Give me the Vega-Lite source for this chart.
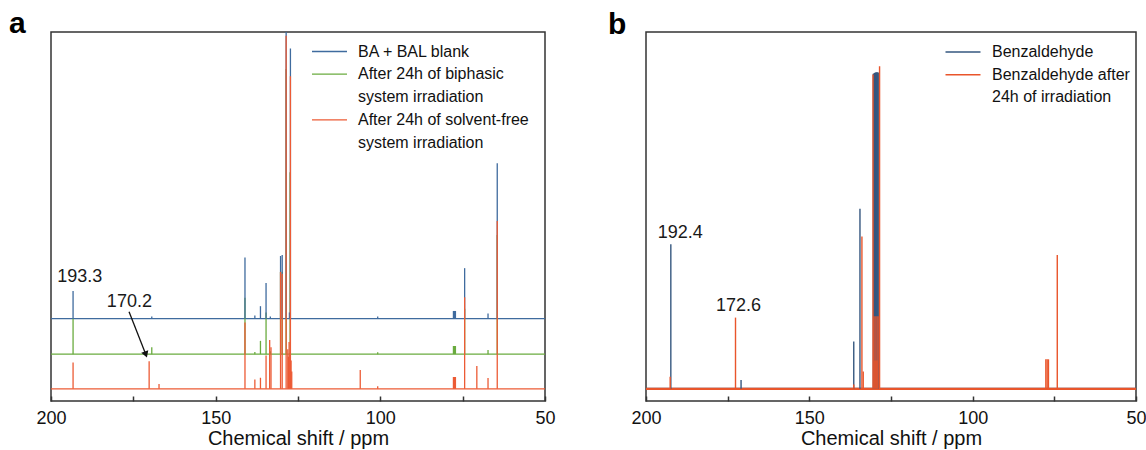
{
  "$schema": "https://vega.github.io/schema/vega-lite/v6.json",
  "padding": {"left": 8, "top": 8, "right": 0, "bottom": 0},
  "bounds": "flush",
  "spacing": 101,
  "resolve": {
    "scale": {"color": "independent", "strokeWidth": "independent"},
    "legend": {"color": "independent", "strokeWidth": "independent"}
  },
  "config": {
    "font": "Liberation Sans",
    "view": {"stroke": "#333", "strokeWidth": 1.5},
    "axisY": {"disable": true},
    "axisX": {
      "domain": false, "grid": false, "tickSize": -5, "tickColor": "#333", "tickWidth": 1.5,
      "labelFontSize": 18, "labelColor": "#111", "labelPadding": 13, "labelFlush": false,
      "titleFontSize": 20, "titleFontWeight": "normal", "titleColor": "#111", "titlePadding": 1
    },
    "legend": {
      "orient": "none", "title": null, "symbolType": "M-2,0H2", "symbolSize": 306,
      "symbolStrokeWidth": 1.6, "labelFontSize": 16, "labelOffset": 19, "labelLimit": 400,
      "labelColor": "#111", "rowPadding": 4.7, "padding": 0
    },
    "title": {"anchor": "start", "fontSize": 30, "fontWeight": "bold", "color": "#000", "baseline": "alphabetic", "offset": -8}
  },
  "datasets": {
    "baseA": [
      {"s": "BA + BAL blank", "base": 22.3},
      {"s": "After 24h of biphasic system irradiation", "base": 12.7},
      {"s": "After 24h of solvent-free system irradiation", "base": 3.3}
    ],
    "peaksA": [
      {"s": "After 24h of biphasic system irradiation", "ppm": 193.3, "top": 22.3, "base": 12.7},
      {"s": "After 24h of biphasic system irradiation", "ppm": 169.4, "top": 14.6, "base": 12.7},
      {"s": "After 24h of biphasic system irradiation", "ppm": 141.1, "top": 28, "base": 12.7},
      {"s": "After 24h of biphasic system irradiation", "ppm": 138.1, "top": 13.3, "base": 12.7},
      {"s": "After 24h of biphasic system irradiation", "ppm": 136.4, "top": 16.3, "base": 12.7},
      {"s": "After 24h of biphasic system irradiation", "ppm": 134.7, "top": 24, "base": 12.7},
      {"s": "After 24h of biphasic system irradiation", "ppm": 133.4, "top": 13.5, "base": 12.7},
      {"s": "After 24h of biphasic system irradiation", "ppm": 130.3, "top": 35, "base": 12.7},
      {"s": "After 24h of biphasic system irradiation", "ppm": 129.8, "top": 35, "base": 12.7},
      {"s": "After 24h of biphasic system irradiation", "ppm": 128.6, "top": 90, "base": 12.7},
      {"s": "After 24h of biphasic system irradiation", "ppm": 127.4, "top": 62, "base": 12.7},
      {"s": "After 24h of biphasic system irradiation", "ppm": 100.8, "top": 13.2, "base": 12.7},
      {"s": "After 24h of biphasic system irradiation", "ppm": 77.8, "top": 14.9, "base": 12.7},
      {"s": "After 24h of biphasic system irradiation", "ppm": 77.5, "top": 14.9, "base": 12.7},
      {"s": "After 24h of biphasic system irradiation", "ppm": 77.2, "top": 14.9, "base": 12.7},
      {"s": "After 24h of biphasic system irradiation", "ppm": 74.4, "top": 25, "base": 12.7},
      {"s": "After 24h of biphasic system irradiation", "ppm": 67.3, "top": 13.8, "base": 12.7},
      {"s": "After 24h of biphasic system irradiation", "ppm": 64.5, "top": 45, "base": 12.7},
      {"s": "BA + BAL blank", "ppm": 193.3, "top": 29.8, "base": 22.3},
      {"s": "BA + BAL blank", "ppm": 169.4, "top": 22.9, "base": 22.3},
      {"s": "BA + BAL blank", "ppm": 141.1, "top": 38.9, "base": 22.3},
      {"s": "BA + BAL blank", "ppm": 138.1, "top": 23.2, "base": 22.3},
      {"s": "BA + BAL blank", "ppm": 136.4, "top": 25.7, "base": 22.3},
      {"s": "BA + BAL blank", "ppm": 134.7, "top": 32, "base": 22.3},
      {"s": "BA + BAL blank", "ppm": 133.4, "top": 22.9, "base": 22.3},
      {"s": "BA + BAL blank", "ppm": 130.3, "top": 39.3, "base": 22.3},
      {"s": "BA + BAL blank", "ppm": 129.8, "top": 39.6, "base": 22.3},
      {"s": "BA + BAL blank", "ppm": 128.6, "top": 100, "base": 22.3},
      {"s": "BA + BAL blank", "ppm": 127.6, "top": 24, "base": 22.3},
      {"s": "BA + BAL blank", "ppm": 127.3, "top": 95.5, "base": 22.3},
      {"s": "BA + BAL blank", "ppm": 100.8, "top": 22.9, "base": 22.3},
      {"s": "BA + BAL blank", "ppm": 77.8, "top": 24.4, "base": 22.3},
      {"s": "BA + BAL blank", "ppm": 77.5, "top": 24.4, "base": 22.3},
      {"s": "BA + BAL blank", "ppm": 77.2, "top": 24.4, "base": 22.3},
      {"s": "BA + BAL blank", "ppm": 74.4, "top": 36, "base": 22.3},
      {"s": "BA + BAL blank", "ppm": 67.3, "top": 23.7, "base": 22.3},
      {"s": "BA + BAL blank", "ppm": 64.5, "top": 64.4, "base": 22.3},
      {"s": "After 24h of solvent-free system irradiation", "ppm": 193.3, "top": 10.4, "base": 3.3},
      {"s": "After 24h of solvent-free system irradiation", "ppm": 170.2, "top": 10.8, "base": 3.3},
      {"s": "After 24h of solvent-free system irradiation", "ppm": 167.2, "top": 4.6, "base": 3.3},
      {"s": "After 24h of solvent-free system irradiation", "ppm": 141.1, "top": 21.3, "base": 3.3},
      {"s": "After 24h of solvent-free system irradiation", "ppm": 138.1, "top": 5.8, "base": 3.3},
      {"s": "After 24h of solvent-free system irradiation", "ppm": 136.4, "top": 6.3, "base": 3.3},
      {"s": "After 24h of solvent-free system irradiation", "ppm": 134.7, "top": 12.3, "base": 3.3},
      {"s": "After 24h of solvent-free system irradiation", "ppm": 133.6, "top": 16.5, "base": 3.3},
      {"s": "After 24h of solvent-free system irradiation", "ppm": 133.2, "top": 14.6, "base": 3.3},
      {"s": "After 24h of solvent-free system irradiation", "ppm": 130.3, "top": 35, "base": 3.3},
      {"s": "After 24h of solvent-free system irradiation", "ppm": 129.8, "top": 34.5, "base": 3.3},
      {"s": "After 24h of solvent-free system irradiation", "ppm": 128.6, "top": 99, "base": 3.3},
      {"s": "After 24h of solvent-free system irradiation", "ppm": 128.1, "top": 14, "base": 3.3},
      {"s": "After 24h of solvent-free system irradiation", "ppm": 127.9, "top": 12, "base": 3.3},
      {"s": "After 24h of solvent-free system irradiation", "ppm": 127.7, "top": 16, "base": 3.3},
      {"s": "After 24h of solvent-free system irradiation", "ppm": 127.5, "top": 13, "base": 3.3},
      {"s": "After 24h of solvent-free system irradiation", "ppm": 127.3, "top": 88, "base": 3.3},
      {"s": "After 24h of solvent-free system irradiation", "ppm": 127.1, "top": 11, "base": 3.3},
      {"s": "After 24h of solvent-free system irradiation", "ppm": 126.9, "top": 8, "base": 3.3},
      {"s": "After 24h of solvent-free system irradiation", "ppm": 106.1, "top": 8.4, "base": 3.3},
      {"s": "After 24h of solvent-free system irradiation", "ppm": 100.8, "top": 4, "base": 3.3},
      {"s": "After 24h of solvent-free system irradiation", "ppm": 77.8, "top": 6.5, "base": 3.3},
      {"s": "After 24h of solvent-free system irradiation", "ppm": 77.5, "top": 6.5, "base": 3.3},
      {"s": "After 24h of solvent-free system irradiation", "ppm": 77.2, "top": 6.5, "base": 3.3},
      {"s": "After 24h of solvent-free system irradiation", "ppm": 74.4, "top": 28.1, "base": 3.3},
      {"s": "After 24h of solvent-free system irradiation", "ppm": 70.7, "top": 9.5, "base": 3.3},
      {"s": "After 24h of solvent-free system irradiation", "ppm": 67.3, "top": 6.2, "base": 3.3},
      {"s": "After 24h of solvent-free system irradiation", "ppm": 64.5, "top": 48.8, "base": 3.3}
    ],
    "annA": [
      {"ppm": 191.3, "val": 33.5, "label": "193.3"},
      {"ppm": 176.2, "val": 26.8, "label": "170.2"}
    ],
    "arrowA": [
      {"ppm": 176.3, "val": 24.2, "ppm2": 171.2, "val2": 12.6}
    ],
    "baseB": [
      {"s": "Benzaldehyde", "base": 3.3},
      {"s": "Benzaldehyde after 24h of irradiation", "base": 3.3}
    ],
    "peaksB": [
      {"s": "Benzaldehyde", "ppm": 192.4, "top": 42.5, "base": 3.3},
      {"s": "Benzaldehyde", "ppm": 170.9, "top": 5.7, "base": 3.3},
      {"s": "Benzaldehyde", "ppm": 136.4, "top": 16.1, "base": 3.3},
      {"s": "Benzaldehyde", "ppm": 134.5, "top": 52.1, "base": 3.3},
      {"s": "Benzaldehyde", "ppm": 130.4, "top": 88.7, "base": 3.3},
      {"s": "Benzaldehyde", "ppm": 130.1, "top": 88.9, "base": 3.3},
      {"s": "Benzaldehyde", "ppm": 129.8, "top": 89, "base": 3.3},
      {"s": "Benzaldehyde", "ppm": 129.5, "top": 89.1, "base": 3.3},
      {"s": "Benzaldehyde", "ppm": 129.2, "top": 89.1, "base": 3.3},
      {"s": "Benzaldehyde", "ppm": 128.9, "top": 89, "base": 3.3},
      {"s": "Benzaldehyde after 24h of irradiation", "ppm": 192.6, "top": 6.6, "base": 3.3},
      {"s": "Benzaldehyde after 24h of irradiation", "ppm": 172.6, "top": 22.6, "base": 3.3},
      {"s": "Benzaldehyde after 24h of irradiation", "ppm": 136.4, "top": 4.5, "base": 3.3},
      {"s": "Benzaldehyde after 24h of irradiation", "ppm": 133.9, "top": 44.6, "base": 3.3},
      {"s": "Benzaldehyde after 24h of irradiation", "ppm": 133.5, "top": 8, "base": 3.3},
      {"s": "Benzaldehyde after 24h of irradiation", "ppm": 130.5, "top": 88.5, "base": 3.3},
      {"s": "Benzaldehyde after 24h of irradiation", "ppm": 130.2, "top": 23, "base": 3.3},
      {"s": "Benzaldehyde after 24h of irradiation", "ppm": 129.9, "top": 11, "base": 3.3},
      {"s": "Benzaldehyde after 24h of irradiation", "ppm": 129.6, "top": 23, "base": 3.3},
      {"s": "Benzaldehyde after 24h of irradiation", "ppm": 129.3, "top": 11, "base": 3.3},
      {"s": "Benzaldehyde after 24h of irradiation", "ppm": 129.0, "top": 23, "base": 3.3},
      {"s": "Benzaldehyde after 24h of irradiation", "ppm": 128.5, "top": 90.7, "base": 3.3},
      {"s": "Benzaldehyde after 24h of irradiation", "ppm": 77.6, "top": 11.3, "base": 3.3},
      {"s": "Benzaldehyde after 24h of irradiation", "ppm": 77.2, "top": 11.3, "base": 3.3},
      {"s": "Benzaldehyde after 24h of irradiation", "ppm": 76.8, "top": 11.3, "base": 3.3},
      {"s": "Benzaldehyde after 24h of irradiation", "ppm": 74.1, "top": 39.6, "base": 3.3}
    ],
    "annB": [
      {"ppm": 189.5, "val": 45.5, "label": "192.4"},
      {"ppm": 171.7, "val": 25.8, "label": "172.6"}
    ]
  },
  "hconcat": [
    {
      "width": 494,
      "height": 369,
      "title": {"text": "a", "dx": -27},
      "layer": [
        {
          "data": {"name": "baseA"},
          "mark": {"type": "rule"},
          "encoding": {
            "y": {"field": "base", "type": "quantitative", "scale": {"domain": [0, 100], "nice": false}},
            "color": {"field": "s", "type": "nominal",
              "scale": {"domain": ["BA + BAL blank", "After 24h of biphasic system irradiation", "After 24h of solvent-free system irradiation"], "range": ["#3f6b9e", "#6aab3f", "#ec5b35"]},
              "legend": {"legendX": 269, "legendY": 10,
                "labelExpr": "datum.label == 'After 24h of biphasic system irradiation' ? ['After 24h of biphasic', 'system irradiation'] : datum.label == 'After 24h of solvent-free system irradiation' ? ['After 24h of solvent-free', 'system irradiation'] : datum.label",
                "encode": {"labels": {"update": {"lineHeight": {"value": 22.7}}}, "symbols": {"update": {"strokeWidth": {"value": 1.6}}}}}},
            "strokeWidth": {"field": "s", "type": "nominal",
              "scale": {"domain": ["BA + BAL blank", "After 24h of biphasic system irradiation", "After 24h of solvent-free system irradiation"], "range": [1.3, 1.3, 2.2]},
              "legend": null}
          }
        },
        {
          "data": {"name": "peaksA"},
          "mark": {"type": "rule", "strokeWidth": 1.3},
          "encoding": {
            "x": {"field": "ppm", "type": "quantitative", "title": "Chemical shift / ppm",
              "scale": {"domain": [50, 200], "reverse": true, "nice": false},
              "axis": {"values": [200, 175, 150, 125, 100, 75, 50], "labelExpr": "datum.value % 50 === 0 ? datum.label : ''"}},
            "y": {"field": "top", "type": "quantitative", "scale": {"domain": [0, 100], "nice": false}},
            "y2": {"field": "base"},
            "color": {"field": "s", "type": "nominal"}
          }
        },
        {
          "data": {"name": "annA"},
          "mark": {"type": "text", "fontSize": 18, "color": "#1a1a1a", "baseline": "middle"},
          "encoding": {
            "x": {"field": "ppm", "type": "quantitative", "title": "Chemical shift / ppm", "scale": {"domain": [50, 200], "reverse": true, "nice": false}},
            "y": {"field": "val", "type": "quantitative", "scale": {"domain": [0, 100], "nice": false}},
            "text": {"field": "label"}
          }
        },
        {
          "data": {"name": "arrowA"},
          "mark": {"type": "rule", "color": "#111", "strokeWidth": 1.3},
          "encoding": {
            "x": {"field": "ppm", "type": "quantitative", "title": "Chemical shift / ppm", "scale": {"domain": [50, 200], "reverse": true, "nice": false}},
            "x2": {"field": "ppm2"},
            "y": {"field": "val", "type": "quantitative", "scale": {"domain": [0, 100], "nice": false}},
            "y2": {"field": "val2"}
          }
        },
        {
          "data": {"name": "arrowA"},
          "mark": {"type": "point", "shape": "triangle-down", "filled": true, "color": "#111", "size": 55, "angle": 340, "opacity": 1},
          "encoding": {
            "x": {"field": "ppm2", "type": "quantitative", "title": "Chemical shift / ppm", "scale": {"domain": [50, 200], "reverse": true, "nice": false}},
            "y": {"field": "val2", "type": "quantitative", "scale": {"domain": [0, 100], "nice": false}}
          }
        }
      ]
    },
    {
      "width": 490,
      "height": 369,
      "title": {"text": "b", "dx": -23},
      "layer": [
        {
          "data": {"name": "baseB"},
          "mark": {"type": "rule", "strokeWidth": 2.2},
          "encoding": {
            "y": {"field": "base", "type": "quantitative", "scale": {"domain": [0, 100], "nice": false}},
            "color": {"field": "s", "type": "nominal",
              "scale": {"domain": ["Benzaldehyde", "Benzaldehyde after 24h of irradiation"], "range": ["#35577f", "#e9552b"]},
              "legend": {"legendX": 307, "legendY": 10,
                "labelExpr": "datum.label == 'Benzaldehyde after 24h of irradiation' ? ['Benzaldehyde after', '24h of irradiation'] : datum.label",
                "encode": {"labels": {"update": {"lineHeight": {"value": 22.7}}}, "symbols": {"update": {"strokeWidth": {"value": 1.6}}}}}}
          }
        },
        {
          "data": {"name": "peaksB"},
          "mark": {"type": "rule", "strokeWidth": 1.4},
          "encoding": {
            "x": {"field": "ppm", "type": "quantitative", "title": "Chemical shift / ppm",
              "scale": {"domain": [50, 200], "reverse": true, "nice": false},
              "axis": {"values": [200, 175, 150, 125, 100, 75, 50], "labelExpr": "datum.value % 50 === 0 ? datum.label : ''"}},
            "y": {"field": "top", "type": "quantitative", "scale": {"domain": [0, 100], "nice": false}},
            "y2": {"field": "base"},
            "color": {"field": "s", "type": "nominal"}
          }
        },
        {
          "data": {"name": "annB"},
          "mark": {"type": "text", "fontSize": 18, "color": "#1a1a1a", "baseline": "middle"},
          "encoding": {
            "x": {"field": "ppm", "type": "quantitative", "title": "Chemical shift / ppm", "scale": {"domain": [50, 200], "reverse": true, "nice": false}},
            "y": {"field": "val", "type": "quantitative", "scale": {"domain": [0, 100], "nice": false}},
            "text": {"field": "label"}
          }
        }
      ]
    }
  ]
}
